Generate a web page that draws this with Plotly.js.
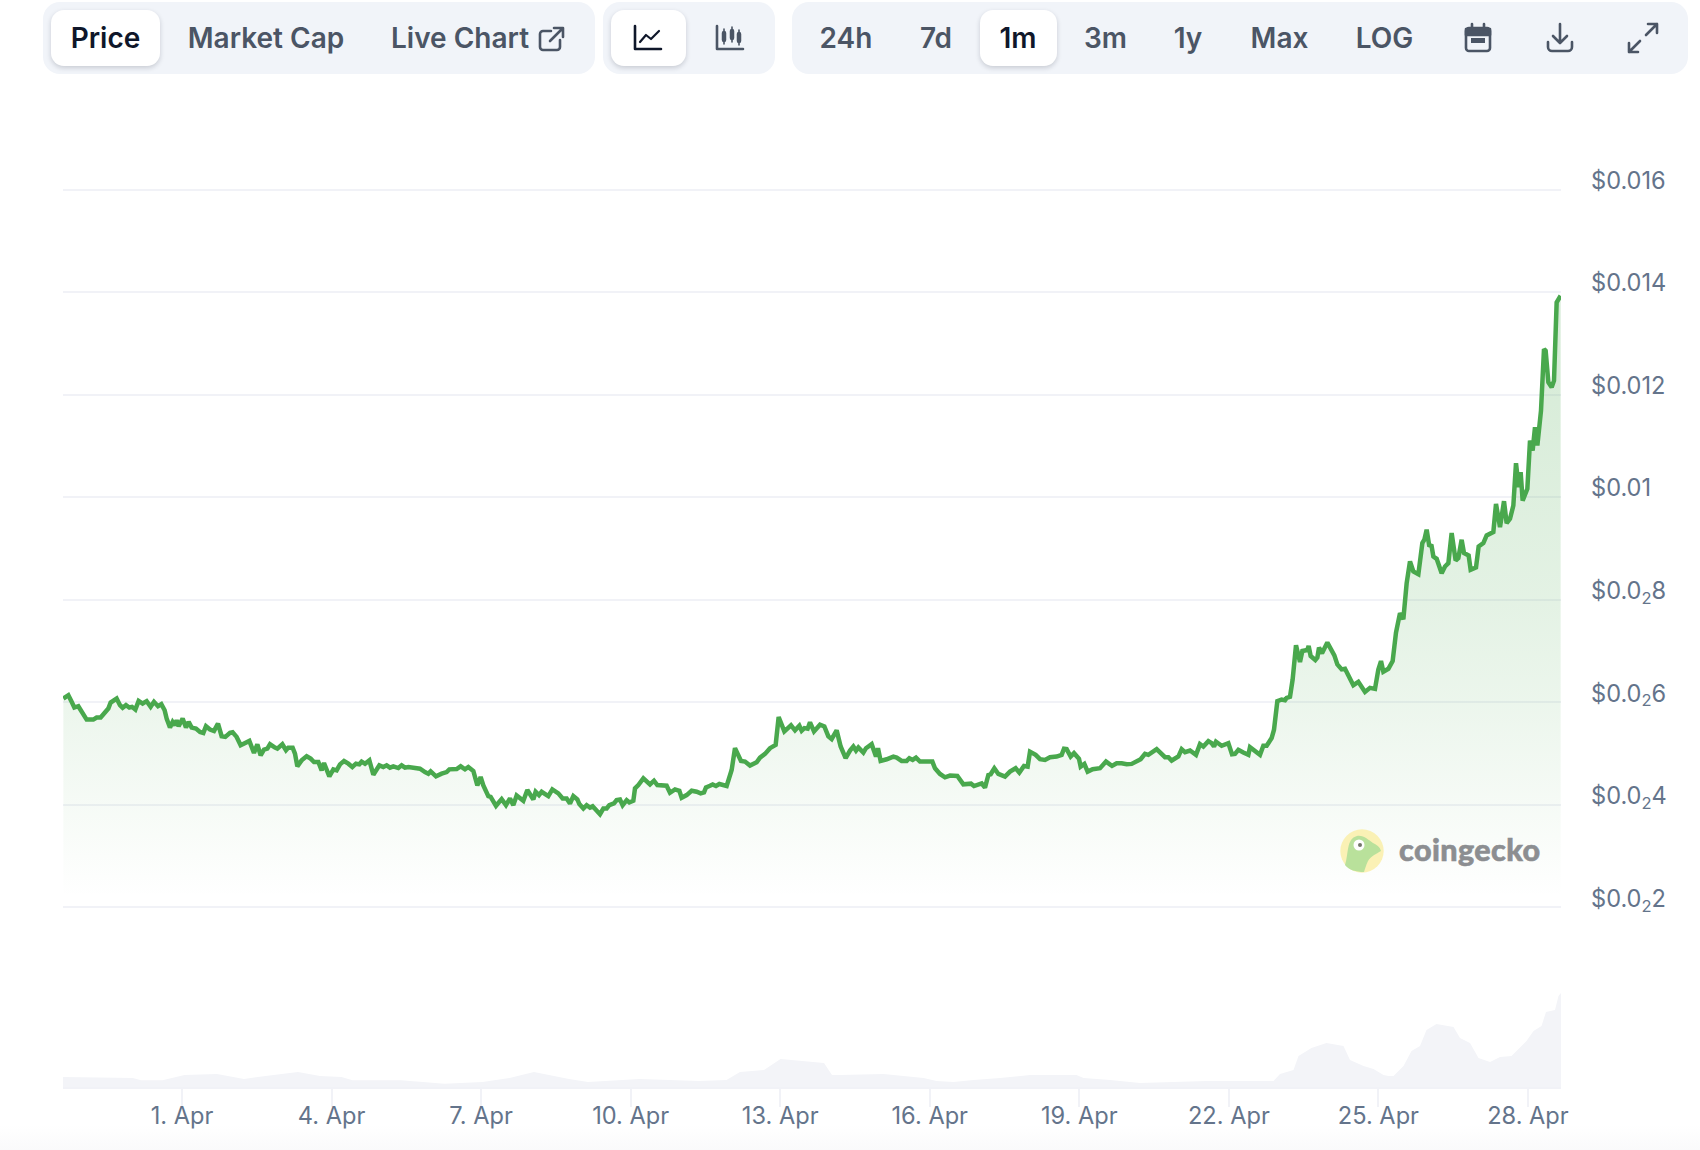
<!DOCTYPE html>
<html>
<head>
<meta charset="utf-8">
<script src="https://cdn.plot.ly/plotly-3.0.1.min.js"></script>
<style>
html,body{margin:0;padding:0;width:1700px;height:1150px;overflow:hidden;background:#fff;font-family:Inter,sans-serif;}
#fade{position:absolute;left:0;top:1125px;width:1700px;height:25px;background:linear-gradient(#ffffff,#fafafb);}
#chart{position:absolute;left:0;top:0;width:1700px;height:1150px;}
.panel{position:absolute;top:2px;height:72px;background:#f1f4f9;border-radius:17px;}
.on{position:absolute;top:10px;height:56px;background:#fff;border-radius:13px;box-shadow:0 2px 5px rgba(15,23,42,.18);}
.t{position:absolute;top:18px;height:40px;line-height:40px;font-size:28px;font-weight:600;color:#4b5565;transform:translateX(-50%);white-space:nowrap;}
.t.a{color:#0f172a;}
svg.i{position:absolute;fill:none;stroke:#4b5565;stroke-width:2.6;stroke-linecap:round;stroke-linejoin:round;}
#logo{position:absolute;left:1340px;top:829px;width:44px;height:44px;opacity:.95;}
#word{position:absolute;left:1399px;top:829px;height:40px;line-height:40px;font-family:Lato,sans-serif;font-weight:900;font-size:30.5px;color:#8c8e91;letter-spacing:.4px;-webkit-text-stroke:.6px #8c8e91;}
</style>
</head>
<body>
<div id="fade"></div>
<div id="chart"></div>

<div class="panel" style="left:43px;width:552px"></div>
<div class="on" style="left:51px;width:109px"></div>
<div class="t a" style="left:105.5px">Price</div>
<div class="t" style="left:266px">Market Cap</div>
<div class="t" style="left:460px">Live Chart</div>
<svg class="i" style="left:538px;top:26px" width="27" height="26" viewBox="0 0 27 26"><path d="M13 5H5a3 3 0 0 0-3 3v13a3 3 0 0 0 3 3h14a3 3 0 0 0 3-3v-7"/><path d="M12 15L24 3M16 2h9v9"/></svg>

<div class="panel" style="left:603px;width:172px"></div>
<div class="on" style="left:611px;width:75px"></div>
<svg class="i" style="left:633px;top:24px;stroke:#0f172a" width="30" height="28" viewBox="0 0 30 28"><path d="M2 2v23h26" /><path d="M7 18l6-7 5 4 8-8" stroke-width="2.2"/></svg>
<svg class="i" style="left:715px;top:24px" width="30" height="28" viewBox="0 0 30 28"><path d="M2 2v23h26"/><path d="M9 5v15M17 3v15M24 6v15" stroke-width="1.6"/><path d="M9 9v7M17 7v7M24 10v7" stroke-width="4.5"/></svg>

<div class="panel" style="left:792px;width:896px"></div>
<div class="on" style="left:980px;width:77px"></div>
<div class="t" style="left:846px">24h</div>
<div class="t" style="left:936px">7d</div>
<div class="t a" style="left:1018px">1m</div>
<div class="t" style="left:1105.5px">3m</div>
<div class="t" style="left:1188px">1y</div>
<div class="t" style="left:1279.5px">Max</div>
<div class="t" style="left:1384.5px">LOG</div>
<svg class="i" style="left:1464px;top:22px" width="28" height="31" viewBox="0 0 28 31"><rect x="2" y="6" width="24" height="23" rx="3"/><path d="M2 7h24v6H2z" fill="#4b5565"/><path d="M8 2v4M20 2v4"/><rect x="7" y="16" width="14" height="5" fill="#4b5565" stroke="none"/></svg>
<svg class="i" style="left:1546px;top:22px" width="28" height="31" viewBox="0 0 28 31"><path d="M14 2v18M7 14l7 7 7-7"/><path d="M2 20v5a4 4 0 0 0 4 4h16a4 4 0 0 0 4-4v-5"/></svg>
<svg class="i" style="left:1627px;top:22px" width="32" height="32" viewBox="0 0 32 32"><path d="M19 13L30 2M21 2h9v9M13 19L2 30M2 21v9h9"/></svg>

<svg id="logo" viewBox="0 0 44 44"><circle cx="22" cy="22" r="21.7" fill="#fbf1b2"/><path d="M5 36C9 24 6 10 17 7c7-1 11 4 16 7 4 2 7 4 8 8-5 3-10 5-13 10-2 4-3 8-4 11-8 0-15-2-19-7z" fill="#b6e096"/><circle cx="19" cy="16" r="5.5" fill="#fff"/><circle cx="20" cy="16" r="2" fill="#6b6f63"/></svg>
<div id="word">coingecko</div>

<script>
// Price, x = day of April (read at 50 px per day), y = micro-dollars
const priceDay = [
-1.373,-1.273,-1.207,-1.153,-1.073,-1.007,-0.907,-0.773,-0.707,-0.627,-0.54,-0.473,-0.427,-0.373,-0.307,-0.24,-0.187,-0.12,-0.053,0,0.067,0.133,0.213,0.293,0.373,0.44,0.52,0.587,0.653,0.693,
0.76,0.813,0.86,0.893,0.933,1.013,1.08,1.133,1.193,1.28,1.36,1.427,1.48,1.56,1.64,1.72,1.793,1.867,1.96,2.013,2.093,2.173,2.26,2.347,2.44,2.507,2.573,2.64,2.707,2.76,
2.86,2.907,3.007,3.08,3.127,3.213,3.26,3.307,3.393,3.493,3.573,3.64,3.727,3.793,3.84,3.947,4.027,4.093,4.16,4.24,4.327,4.407,4.48,4.547,4.593,4.66,4.747,4.827,4.947,5.027,
5.093,5.16,5.227,5.327,5.393,5.46,5.527,5.66,5.76,5.86,5.927,5.973,6.08,6.193,6.293,6.347,6.493,6.573,6.66,6.727,6.827,6.907,6.973,7.027,7.127,
7.173,7.28,7.393,7.48,7.56,7.627,7.693,7.827,7.907,8.027,8.073,8.14,8.193,8.327,8.407,8.527,8.613,8.693,8.76,8.827,8.907,8.947,9.027,9.093,9.16,9.213,9.36,9.427,9.493,9.547,
9.64,9.693,9.76,9.813,9.893,9.947,10.027,10.06,10.127,10.227,10.36,10.44,10.507,10.627,10.693,10.76,10.86,10.947,10.993,11.093,11.193,11.293,11.373,11.44,11.48,11.56,11.613,11.68,11.747,11.893,
11.993,12.06,12.18,12.26,12.36,12.493,12.56,12.66,12.76,12.873,12.933,13.047,13.093,13.18,13.26,13.347,13.393,13.447,13.513,13.56,13.64,13.76,13.847,13.927,13.993,14.093,14.173,14.273,14.36,14.427,
14.48,14.527,14.627,14.68,14.793,14.88,14.92,14.973,15.093,15.227,15.293,15.393,15.493,15.547,15.613,15.68,15.76,
15.88,16.007,16.06,16.16,16.26,16.36,16.507,16.627,16.78,16.84,16.993,17.06,17.127,17.173,17.247,17.327,17.46,17.56,17.673,17.747,17.84,17.913,17.96,18.073,18.16,18.26,18.36,18.493,18.593,18.64,
18.693,18.773,18.84,18.94,18.973,19.047,19.113,19.213,19.36,19.48,19.6,19.693,19.793,19.893,19.993,20.093,20.173,20.26,20.327,20.493,20.66,20.727,20.793,20.927,20.993,21.06,21.16,21.28,21.36,21.427,
21.527,21.593,21.64,21.68,21.793,21.927,22,22.06,22.127,22.227,22.327,22.36,22.56,22.627,22.693,22.793,22.84,22.907,22.993,23.06,23.093,23.16,23.213,23.28,23.36,23.407,23.507,23.533,23.573,23.667,
23.707,23.74,23.8,23.907,23.993,24.047,24.107,24.193,24.26,24.36,24.427,24.527,24.66,24.76,24.86,24.927,24.98,25.027,25.127,25.213,25.28,25.36,25.427,25.493,25.56,25.627,25.727,25.807,25.847,25.893,
25.947,25.987,26.027,26.093,26.193,26.26,26.327,26.393,26.473,26.527,26.593,26.64,26.733,26.773,26.88,26.933,27.027,27.093,27.227,27.28,27.36,27.44,27.493,27.56,27.627,27.68,27.733,27.773,27.813,27.907,
27.96,28.013,28.06,28.107,28.18,28.24,28.273,28.327,28.393,28.44,28.493,28.573];
const priceMicroUsd = [
6073,6138,6008,5897,5923,5812,5662,5662,5702,5702,5812,5878,5995,6021,6073,5943,5891,5943,5897,5910,5858,6027,5975,6021,5910,6008,5923,5962,5845,5682,
5506,5617,5552,5649,5532,5682,5506,5617,5506,5486,5421,5402,5532,5467,5441,5584,5337,5324,5402,5415,5324,5161,5206,5245,5011,5180,4965,5076,5096,5180,
5115,5096,5180,5063,5115,5115,4998,4750,4867,4946,4900,4835,4835,4672,4815,4555,4691,4672,4789,4854,4802,4737,4802,4789,4841,4802,4867,4587,4770,4737,
4770,4724,4750,4717,4770,4724,4737,4717,4704,4639,4607,4652,4555,4607,4639,4691,4698,4750,4691,4737,4659,4379,4542,4379,4170,
4156,3980,4111,3993,4124,3993,4183,4078,4287,4104,4254,4189,4254,4170,4300,4222,4124,4124,4026,4170,4104,4013,3928,3993,3947,3973,3817,3928,3928,3993,
4026,4091,4104,3993,4091,4045,4078,4320,4385,4516,4398,4470,4385,4379,4372,4235,4300,4274,4137,4189,4274,4254,4222,4241,4339,4372,4398,4366,4405,4366,
4679,5104,4856,4843,4764,4830,4921,4993,5104,5170,5712,5431,5477,5549,5451,5542,5444,5496,5483,5607,5431,5562,5529,5333,5281,5451,5137,4908,5058,5137,
5058,5117,5019,5104,5183,4941,5104,4856,4888,4941,4921,4856,4856,4908,4875,4921,4843,
4843,4843,4713,4602,4536,4569,4562,4399,4412,4366,4419,4334,4582,4595,4713,4602,4549,4647,4713,4628,4758,4745,5033,4974,4889,4876,4928,4941,4974,5092,
5085,4941,5007,4896,4745,4798,4647,4693,4713,4843,4758,4811,4811,4791,4798,4863,4889,4994,4974,5085,4928,4928,4863,4941,5085,5026,5059,4974,5183,5137,
5242,5203,5137,5229,5151,5203,4987,4994,5072,5020,4974,5124,4974,5151,5151,5301,5464,6020,6053,6039,6085,6105,6445,7111,6785,7000,7020,7098,6902,6824,
6870,7066,6954,7164,7000,6915,6739,6641,6654,6477,6333,6398,6202,6281,6261,6640,6803,6594,6653,6803,7359,7738,7620,8322,8746,8550,8498,9104,9169,9365,
9039,9072,8843,8798,8518,8648,8713,9300,8765,8811,9169,8909,8863,8583,8628,9039,9104,9254,9319,9869,9415,9921,9493,9577,9837,10662,10194,10486,9934,10162,
11103,10908,11363,11006,11688,12889,12857,12240,12142,12272,13798,13928];

// Volume (relative units)
const volumeDay = [-1.38,0.016,0.18,0.61,1.05,1.7,2.24,2.67,3.32,3.76,4.19,4.41,5.38,6.25,7.01,7.55,8.04,8.74,9.12,10.15,11.34,11.89,12.16,12.64,12.97,13.84,14,14.16,15.03,15.83,16.09,16.43,16.83,17.36,17.96,18.89,19.03,19.56,20.16,21.49,22.36,22.83,22.96,23.23,23.33,23.59,23.89,24.23,24.36,24.63,24.83,25.03,25.13,25.23,25.43,25.59,25.76,25.89,26.09,26.43,26.56,26.76,26.93,27.16,27.36,27.59,27.89,28.03,28.19,28.28,28.46,28.53,28.58];
const volumeValue = [10,9,6.7,6.7,12,13,8,11,15,11,10,6.7,6.7,3.3,5,9,15,8,5,8,6,7,15,17,28,24,12,12,13,9,6,5,7,9,12,12,9,7,4,6,6,6,13,17,31,39,44,41,27,21,18,12,11,11,21,36,41,57,63,60,49,44,29,25,30,31,46,56,61,75,77,91,94];

const priceTicks = [0.002,0.004,0.006,0.008,0.01,0.012,0.014,0.016];
const priceTickLabels = ['$0.0<sub>2</sub>2','$0.0<sub>2</sub>4','$0.0<sub>2</sub>6','$0.0<sub>2</sub>8','$0.01','$0.012','$0.014','$0.016'];
const dayTicks = [1,4,7,10,13,16,19,22,25,28];
const dayTickLabels = ['1. Apr','4. Apr','7. Apr','10. Apr','13. Apr','16. Apr','19. Apr','22. Apr','25. Apr','28. Apr'];

// the tick marks sit 49.85 px apart, the readings above assumed 50 px
const readingScale = 50/49.85;
const toAxisDay = d => 1 + (d-1)*readingScale;

const G = 'rgb(73,168,77)';
const grid = '#f1f2f7';
const traces = [
  {x:volumeDay.map(toAxisDay),y:volumeValue,yaxis:'y2',type:'scatter',mode:'none',fill:'tozeroy',fillcolor:'rgb(243,244,248)',hoverinfo:'skip'},
  {x:priceDay.map(toAxisDay),y:priceMicroUsd.map(v=>v/1e6),type:'scatter',mode:'lines',
   line:{color:G,width:4.5,shape:'linear'},
   fill:'tozeroy',
   fillgradient:{type:'vertical',start:0.0022,stop:0.014,colorscale:[
     [0,'rgba(73,168,77,0)'],
     [0.15,'rgba(73,168,77,0.05)'],
     [0.32,'rgba(73,168,77,0.105)'],
     [0.49,'rgba(73,168,77,0.15)'],
     [0.66,'rgba(73,168,77,0.18)'],
     [0.83,'rgba(73,168,77,0.21)'],
     [1,'rgba(73,168,77,0.23)']]},
   hoverinfo:'skip'}
];
const tickFont = {family:'Inter, sans-serif',size:23.6,color:'#64748b'};
const layout = {
  width:1700,height:1150,autosize:false,showlegend:false,
  paper_bgcolor:'rgba(0,0,0,0)',plot_bgcolor:'rgba(0,0,0,0)',
  margin:{l:63,r:139,t:100,b:63,pad:0},
  xaxis:{type:'linear',range:[-1.387,28.663],tickmode:'array',tickvals:dayTicks,ticktext:dayTickLabels,
    showgrid:false,zeroline:false,showline:true,linecolor:grid,linewidth:2,
    ticks:'outside',ticklen:18,tickwidth:2,tickcolor:grid,tickfont:tickFont,tickangle:0,ticklabelstandoff:-11},
  yaxis:{type:'linear',range:[-0.001504,0.017746],domain:[0,1],side:'right',tickmode:'array',
    tickvals:priceTicks,ticktext:priceTickLabels,showgrid:true,gridcolor:grid,gridwidth:2,
    zeroline:false,showline:false,ticks:'',tickfont:tickFont,ticklabelstandoff:29,ticklabelshift:-9},
  yaxis2:{range:[0,100],domain:[0,100/987],anchor:'x',visible:false,showgrid:false,zeroline:false}
};
Plotly.newPlot('chart',traces,layout,{staticPlot:true,displayModeBar:false});
</script>
</body>
</html>
